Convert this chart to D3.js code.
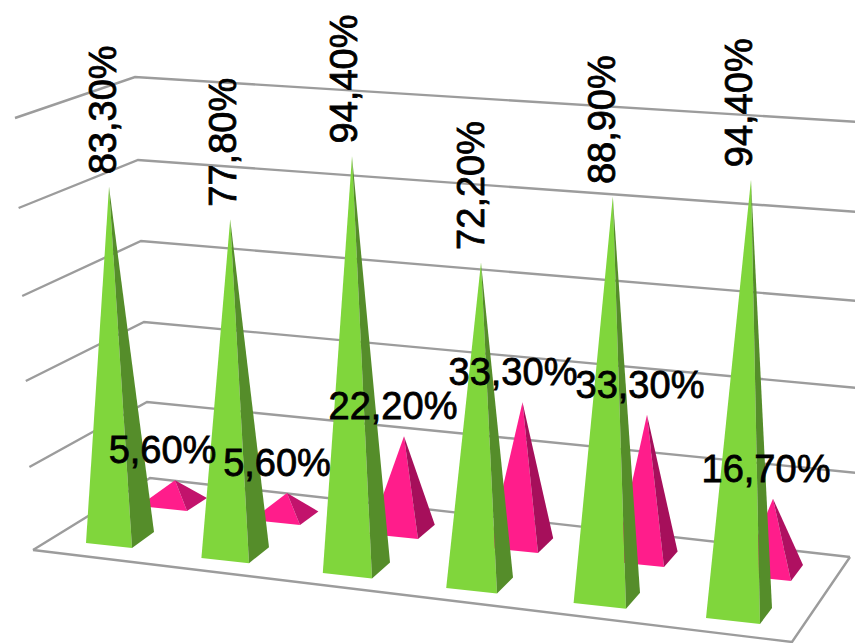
<!DOCTYPE html>
<html>
<head>
<meta charset="utf-8">
<script src="https://cdnjs.cloudflare.com/ajax/libs/d3/7.8.5/d3.min.js"></script>
<style>
html,body{margin:0;padding:0;background:#fff;overflow:hidden}
svg{display:block}
text{font-family:"Liberation Sans",Arial,sans-serif;font-size:38px;fill:#000;stroke:#000;stroke-width:.8px}
</style>
</head>
<body>
<svg id="chart" width="855" height="643"></svg>
<script>
const categories = ["A", "B", "C", "D", "E", "F"];
const greenValues = [83.3, 77.8, 94.4, 72.2, 88.9, 94.4];
const pinkValues = [5.6, 5.6, 22.2, 33.3, 33.3, 16.7];
const levels = [0, 20, 40, 60, 80, 100];

const svg = d3.select("#chart");
const idx = d3.scaleLinear().domain([0, categories.length - 1]).range([0, 5]);

// wall and floor projection of the value axis
const leftX = d3.scaleLinear().domain([0, 100]).range([33, 15]);
const leftY = d3.scaleLinear().domain(levels).range([550, 467, 381, 296, 208, 118]);
const cornerX = d3.scaleLinear().domain([0, 100]).range([150, 135]);
const cornerY = d3.scaleLinear().domain(levels).range([478, 402, 322, 241, 160, 77]);
const rightX = d3.scaleLinear().domain([0, 20, 100]).range([850, 858, 858]);
const rightY = d3.scaleLinear().domain(levels).range([557, 473, 388, 301, 212, 122]);

const line = d3.line();
const gridColor = "#9c9c9c";

svg.append("g").selectAll("path").data(levels).join("path")
  .attr("d", l => line([[leftX(l), leftY(l)], [cornerX(l), cornerY(l)], [rightX(l), rightY(l)]]))
  .attr("fill", "none").attr("stroke", gridColor).attr("stroke-width", 2.4);

// front edges of the floor
const floorFront = d3.scaleLinear().domain([0, 1]).range([leftX(0), 792]);
const floorFrontY = d3.scaleLinear().domain([0, 1]).range([leftY(0), 642]);
svg.append("path")
  .attr("d", line([[leftX(0), leftY(0)], [floorFront(1), floorFrontY(1)], [rightX(0), rightY(0)]]))
  .attr("fill", "none").attr("stroke", gridColor).attr("stroke-width", 2.4);

// a series' footprint on the floor, by category position
const slots = [0, 1, 2, 3, 4, 5];
function makeSeries(cfg) {
  const s = {
    fx: d3.scaleLinear().domain(slots).range(cfg.frontX),
    fy: d3.scaleLinear().domain([0, 5]).range(cfg.frontY),
    ldx: d3.scaleLinear().domain([0, 5]).range(cfg.leftDx),
    ldy: d3.scaleLinear().domain([0, 5]).range(cfg.leftDy),
    rdx: d3.scaleLinear().domain([0, 5]).range(cfg.rightDx),
    rdy: d3.scaleLinear().domain([0, 5]).range(cfg.rightDy),
    lean: d3.scaleLinear().domain(slots).range(cfg.lean),
    perUnit: d3.scaleLinear().domain(cfg.perUnitAt).range(cfg.perUnit)
  };
  return (v, i) => {
    const t = idx(i);
    const front = [s.fx(t), s.fy(t)];
    const left = [front[0] + s.ldx(t), front[1] + s.ldy(t)];
    const right = [front[0] + s.rdx(t), front[1] + s.rdy(t)];
    const cx = (left[0] + right[0]) / 2, cy = (left[1] + right[1]) / 2;
    const apex = [cx + s.lean(t), cy - s.perUnit(t) * v];
    return {front, left, right, apex};
  };
}

const pinkGeom = makeSeries({
  frontX: [187, 300, 418, 538, 664, 791], frontY: [511, 581],
  leftDx: [-48, -50], leftDy: [-5, -5],
  rightDx: [20, 12], rightDy: [-13, -16],
  lean: [2, 2, 2, 1.5, 1, 1], perUnitAt: [0, 2, 5], perUnit: [3.9, 4.2, 4.3]
});
const greenGeom = makeSeries({
  frontX: [132, 249, 372, 497, 626, 760], frontY: [548, 624],
  leftDx: [-46, -54], leftDy: [-5, -6],
  rightDx: [22, 12], rightDy: [-16, -16],
  lean: [-11, -5, -4.4, 1.4, 6, 12], perUnitAt: [0, 5], perUnit: [4.21, 4.59]
});

const pinkShade = d3.scaleLinear().domain([5.6, 22.2]).range(["#c2136c", "#a60f5b"]).clamp(true);

function drawSeries(values, geom, leftColor, rightColor) {
  const g = svg.append("g");
  const p = g.selectAll("g").data(values).join("g");
  p.append("path")
    .attr("d", (v, i) => { const b = geom(v, i); return line([b.left, b.front, b.apex]) + "Z"; })
    .attr("fill", leftColor);
  p.append("path")
    .attr("d", (v, i) => { const b = geom(v, i); return line([b.front, b.right, b.apex]) + "Z"; })
    .attr("fill", rightColor);
}

drawSeries(pinkValues, pinkGeom, "#ff1d8b", v => pinkShade(v));
drawSeries(greenValues, greenGeom, "#80d63c", "#558d2a");

const fmt = d3.formatLocale({decimal: ",", thousands: ".", grouping: [3], currency: ["", ""]}).format(".2f");
const label = v => fmt(v) + "%";

const pinkLabelDx = d3.scaleLinear().domain(slots).range([-12.5, -10, -11, -9.5, -7, -7]);
svg.append("g").selectAll("text").data(pinkValues).join("text")
  .attr("text-anchor", "middle")
  .attr("x", (v, i) => pinkGeom(v, i).apex[0] + pinkLabelDx(idx(i)))
  .attr("y", (v, i) => pinkGeom(v, i).apex[1] - 17)
  .text(label);

const greenLabelDx = d3.scaleLinear().domain([0, 5]).range([7, 1]);
svg.append("g").selectAll("text").data(greenValues).join("text")
  .attr("text-anchor", "start")
  .attr("transform", (v, i) => {
    const a = greenGeom(v, i).apex;
    return `translate(${a[0] + greenLabelDx(idx(i))},${a[1] - 12.5}) rotate(-90)`;
  })
  .text(label);
</script>
</body>
</html>
